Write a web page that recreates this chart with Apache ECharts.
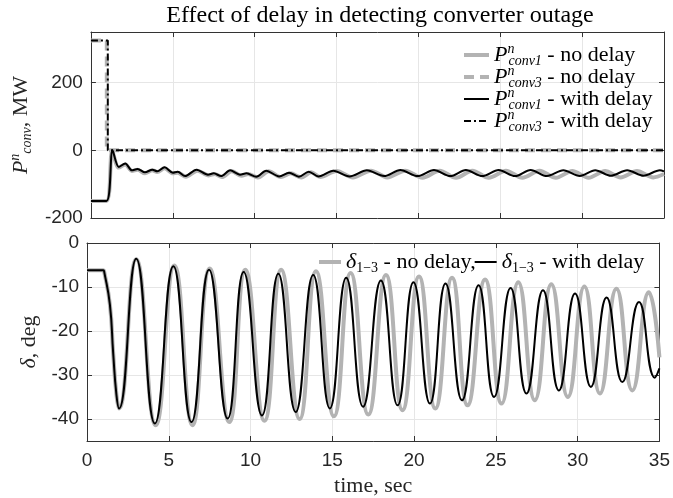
<!DOCTYPE html>
<html>
<head>
<meta charset="utf-8">
<script src="https://cdn.jsdelivr.net/npm/echarts@6/dist/echarts.min.js"></script>
<style>html,body{margin:0;padding:0;background:#fff}#c{width:673px;height:498px}</style>
</head>
<body>
<div id="c"></div>
<script>
// ---- data (time in s) ----
const xTicks = [0, 5, 10, 15, 20, 25, 30, 35];
const pTicks = [-200, 0, 200];
const dTicks = [-40, -30, -20, -10, 0];

const pConv1NoDelay = [[0,-150],[0.95,-150],[1.3,-2],[1.7,-51],[2.1,-42],[2.5,-61],[2.85,-57],[3.3,-68],[3.75,-59],[4.05,-64],[4.5,-53],[5.0,-68],[5.3,-66],[5.8,-78],[6.5,-60],[7.2,-74],[7.55,-70],[8.0,-79],[8.6,-62],[9.2,-75],[9.6,-70],[10.2,-80],[10.85,-62],[11.6,-79],[12.2,-68],[12.85,-80],[13.45,-65],[14.0,-79],[15.0,-61],[16.0,-80],[17.1,-60],[18.1,-80],[19.2,-60],[20.25,-81],[21.3,-60],[22.3,-81],[23.3,-60],[24.3,-81],[25.35,-60],[26.35,-81],[27.4,-60],[28.4,-81],[29.4,-61],[30.4,-81],[31.4,-61],[32.35,-80],[33.35,-61],[34.35,-80],[35,-70]];
const pConv3NoDelay = [[0,325],[0.97,325],[0.97,0],[35,0]];
const pConv1Delay = [[0,-150],[0.95,-150],[1.32,0],[1.7,-49],[2.1,-39],[2.5,-59],[2.85,-55],[3.3,-65],[3.75,-57],[4.05,-62],[4.5,-50],[5.0,-66],[5.3,-63],[5.75,-76],[6.45,-57],[7.15,-72],[7.5,-68],[7.95,-76],[8.5,-59],[9.1,-72],[9.5,-68],[10.1,-78],[10.7,-60],[11.5,-77],[12.1,-66],[12.7,-78],[13.3,-63],[13.9,-77],[14.8,-60],[15.8,-77],[16.85,-59],[17.9,-76],[18.9,-58],[19.95,-76],[20.95,-58],[21.95,-76],[22.9,-58],[23.9,-76],[24.9,-58],[25.9,-76],[26.85,-58],[27.85,-76],[28.85,-59],[29.85,-76],[30.8,-59],[31.75,-75],[32.75,-59],[33.75,-75],[34.75,-59],[35,-62]];
const pConv3Delay = [[0,325],[1.03,325],[1.03,0],[35,0]];

const deltaNoDelay = [[0,-6.2],[1.0,-6.2],[1.05,-6.5],[1.4,-14],[1.6,-25],[1.8,-34.5],[1.96,-37.6],[3.01,-3.7],[4.2,-41.4],[5.34,-5.1],[6.45,-41.4],[7.5,-5.8],[8.7,-40.7],[9.68,-6.1],[10.85,-40.4],[11.87,-6.1],[13.0,-40.0],[14.0,-6.4],[15.1,-39.4],[16.12,-6.8],[17.2,-39.0],[18.28,-7.3],[19.29,-38.0],[20.3,-7.6],[21.3,-37.6],[22.32,-7.9],[23.27,-36.9],[24.34,-8.3],[25.35,-36.5],[26.37,-8.9],[27.38,-35.75],[28.39,-9.4],[29.4,-35.0],[30.41,-9.9],[31.36,-34.2],[32.37,-10.4],[33.34,-33.5],[34.35,-11.2],[35,-26]];
const deltaDelay = [[0,-6.2],[1.0,-6.2],[1.05,-6.5],[1.4,-14],[1.6,-25],[1.8,-34.5],[1.96,-37.6],[3.01,-3.6],[4.15,-41.0],[5.28,-5.3],[6.39,-40.7],[7.46,-6.1],[8.6,-39.9],[9.58,-6.6],[10.7,-39.2],[11.7,-7.0],[12.76,-38.4],[13.83,-7.3],[14.85,-37.6],[15.85,-7.9],[16.88,-37.2],[17.97,-8.5],[18.99,-36.9],[19.96,-8.9],[20.97,-36.5],[21.92,-9.2],[22.93,-35.75],[23.94,-9.6],[24.89,-35.0],[25.9,-10.2],[26.87,-34.2],[27.88,-10.75],[28.85,-33.5],[29.84,-11.5],[30.81,-32.7],[31.77,-12.4],[32.73,-31.6],[33.75,-13.4],[34.72,-30.6],[35,-28.5]];

// ---- styling ----
const GRAY = '#b3b3b3', BLACK = '#000', AX = '#333', GRID = '#e6e6e6';
const SERIF = 'Liberation Serif', SANS = 'Liberation Sans';

const rich = {
  it:  {fontFamily: SERIF, fontStyle: 'italic', fontSize: 22, lineHeight: 26, color: '#000'},
  sup: {fontFamily: SERIF, fontStyle: 'italic', fontSize: 14, lineHeight: 14, verticalAlign: 'top', width: 1, color: '#000'},
  sub: {fontFamily: SERIF, fontStyle: 'italic', fontSize: 14, lineHeight: 14, verticalAlign: 'bottom', color: '#000'},
  sub2:{fontFamily: SERIF, fontSize: 14, lineHeight: 14, verticalAlign: 'bottom', color: '#000'},
  t:   {fontFamily: SERIF, fontSize: 22, lineHeight: 26, color: '#000'}
};
const richName = {
  it:  {fontFamily: SERIF, fontStyle: 'italic', fontSize: 22, lineHeight: 26, color: '#262626'},
  sup: {fontFamily: SERIF, fontStyle: 'italic', fontSize: 14, lineHeight: 14, verticalAlign: 'top', color: '#262626'},
  sub: {fontFamily: SERIF, fontStyle: 'italic', fontSize: 14, lineHeight: 14, verticalAlign: 'bottom', color: '#262626'},
  t:   {fontFamily: SERIF, fontSize: 22, lineHeight: 26, color: '#262626'}
};
const legendTexts = {
  'p1n': '{it|P}{sup|n}{sub|conv1}{t| - no delay}',
  'p3n': '{it|P}{sup|n}{sub|conv3}{t| - no delay}',
  'p1d': '{it|P}{sup|n}{sub|conv1}{t| - with delay}',
  'p3d': '{it|P}{sup|n}{sub|conv3}{t| - with delay}',
  'dn':  '{it|δ}{sub2|1−3}{t| - no delay,}',
  'dd':  '{it|δ}{sub2|1−3}{t| - with delay}'
};

function xAx(grid, pos, labels) {
  return {
    type: 'value', gridIndex: grid, position: pos, min: 0, max: 35, interval: 5,
    axisLine: {show: true, onZero: false, lineStyle: {color: AX, width: 1}},
    axisTick: {show: true, inside: true, length: 5, lineStyle: {color: AX}},
    axisLabel: {show: labels, color: '#262626', fontFamily: SANS, fontSize: 19, margin: 10},
    splitLine: {show: pos === 'bottom', lineStyle: {color: GRID, width: 1}}
  };
}
function yAx(grid, pos, labels, showMin, showMax, extra) {
  return Object.assign({
    type: 'value', gridIndex: grid, position: pos,
    axisLine: {show: true, onZero: false, lineStyle: {color: AX, width: 1}},
    axisTick: {show: true, inside: true, length: 5, lineStyle: {color: AX}},
    axisLabel: {show: labels, color: '#262626', fontFamily: SANS, fontSize: 19, margin: 8, showMaxLabel: showMax, showMinLabel: showMin},
    splitLine: {show: pos === 'left', lineStyle: {color: GRID, width: 1}}
  }, extra);
}

const xAxisBot = xAx(1, 'bottom', true);
xAxisBot.name = 'time, sec';
xAxisBot.nameLocation = 'middle';
xAxisBot.nameGap = 34;
xAxisBot.nameTextStyle = {fontFamily: SERIF, fontSize: 22, color: '#262626'};

const yTopName = {name: '{it|P}{sup|n}{sub|conv}{t|, MW}', nameLocation: 'middle', nameRotate: 90, nameGap: 50,
  nameTextStyle: {rich: richName}};
const yBotName = {name: '{it|δ}{t|, deg}', nameLocation: 'middle', nameRotate: 90, nameGap: 40,
  nameTextStyle: {rich: richName}};

const option = {
  animation: false,
  backgroundColor: '#fff',
  title: {
    text: 'Effect of delay in detecting converter outage',
    left: 375, top: -1, textAlign: 'center',
    textStyle: {fontFamily: SERIF, fontSize: 24, fontWeight: 'normal', color: '#000'}
  },
  grid: [
    {left: 87, right: 9, top: 32, height: 186, containLabel: false},
    {left: 87, right: 9, top: 243, height: 198, containLabel: false}
  ],
  legend: [
    {
      orient: 'vertical', left: 457, top: 37, itemWidth: 25, itemHeight: 12, itemGap: -4,
      data: [
        {name: 'p1n', lineStyle: {width: 4}},
        {name: 'p3n', lineStyle: {width: 4}},
        {name: 'p1d', lineStyle: {width: 2}},
        {name: 'p3d', lineStyle: {width: 2}}
      ],
      formatter: n => legendTexts[n],
      itemStyle: {opacity: 0},
      textStyle: {rich: rich},
      selectedMode: false
    },
    {
      orient: 'horizontal', left: 312, top: 246, itemWidth: 22, itemHeight: 12, itemGap: -2,
      data: [
        {name: 'dn', lineStyle: {width: 4}},
        {name: 'dd', lineStyle: {width: 2}}
      ],
      formatter: n => legendTexts[n],
      itemStyle: {opacity: 0},
      textStyle: {rich: rich},
      selectedMode: false
    }
  ],
  xAxis: [xAx(0, 'bottom', false), xAx(0, 'top', false), xAxisBot, xAx(1, 'top', false)],
  yAxis: [
    yAx(0, 'left', true, true, false, Object.assign({min: -200, max: 350, interval: 200}, yTopName)),
    yAx(0, 'right', false, true, false, {min: -200, max: 350, interval: 200}),
    yAx(1, 'left', true, false, true, Object.assign({min: -45, max: 0, splitNumber: 5}, yBotName)),
    yAx(1, 'right', false, false, true, {min: -45, max: 0, splitNumber: 5})
  ],
  series: [
    {name: 'p1n', type: 'line', xAxisIndex: 0, yAxisIndex: 0, data: pConv1NoDelay, showSymbol: false, symbol: 'none', smooth: 0.3,
      lineStyle: {color: GRAY, width: 4}, itemStyle: {color: GRAY}},
    {name: 'p3n', type: 'line', xAxisIndex: 0, yAxisIndex: 0, data: pConv3NoDelay, showSymbol: false, symbol: 'none',
      lineStyle: {color: GRAY, width: 4, type: [10, 6]}, itemStyle: {color: GRAY}},
    {name: 'p1d', type: 'line', xAxisIndex: 0, yAxisIndex: 0, data: pConv1Delay, showSymbol: false, symbol: 'none', smooth: 0.3,
      lineStyle: {color: BLACK, width: 2}, itemStyle: {color: BLACK}},
    {name: 'p3d', type: 'line', xAxisIndex: 0, yAxisIndex: 0, data: pConv3Delay, showSymbol: false, symbol: 'none',
      lineStyle: {color: BLACK, width: 2, type: [7, 3, 2, 3]}, itemStyle: {color: BLACK}},
    {name: 'dn', type: 'line', xAxisIndex: 2, yAxisIndex: 2, data: deltaNoDelay, showSymbol: false, symbol: 'none', smooth: 0.5,
      lineStyle: {color: GRAY, width: 4}, itemStyle: {color: GRAY}},
    {name: 'dd', type: 'line', xAxisIndex: 2, yAxisIndex: 2, data: deltaDelay, showSymbol: false, symbol: 'none', smooth: 0.5,
      lineStyle: {color: BLACK, width: 2}, itemStyle: {color: BLACK}}
  ]
};
const chart = echarts.init(document.getElementById('c'), null, {renderer: 'canvas'});
chart.setOption(option);
</script>
</body>
</html>
